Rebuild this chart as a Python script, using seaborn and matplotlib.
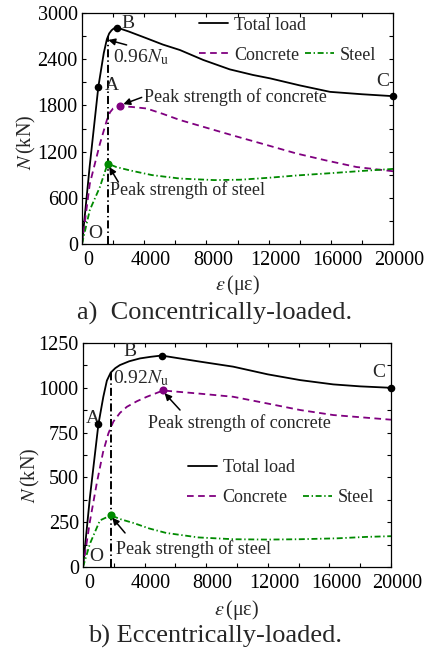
import matplotlib
matplotlib.use("Agg")
import matplotlib.pyplot as plt
import seaborn as sns
from matplotlib.ticker import MultipleLocator
from matplotlib.transforms import ScaledTranslation

# ---------------- data: concentrically-loaded column ----------------
eps_total_a = [0, 500, 1050, 1400, 1600, 1750, 1900, 2050, 2270, 3000, 4150, 5200,
               6300, 7800, 9500, 11000, 12100, 14000, 15950, 18000, 20000]
N_total_a = [0, 1020, 2040, 2480, 2660, 2735, 2775, 2800, 2810, 2760, 2672, 2590,
             2519, 2390, 2268, 2195, 2151, 2060, 1976, 1945, 1920]
eps_conc_a = [0, 500, 1150, 1600, 1800, 2000, 2450, 3200, 4150, 5200, 6300, 8000,
              9700, 11800, 13800, 15700, 17650, 20000]
N_conc_a = [0, 780, 1300, 1610, 1710, 1760, 1790, 1780, 1760, 1690, 1610, 1510,
            1410, 1290, 1175, 1085, 1000, 945]
eps_steel_a = [0, 500, 1150, 1650, 2200, 3100, 4500, 6300, 8500, 10200, 12000,
               13800, 16000, 18100, 20000]
N_steel_a = [0, 440, 740, 1045, 1000, 955, 895, 850, 830, 835, 860, 890, 920, 950, 975]
key_a = {"A": (1050, 2040), "B": (2270, 2810), "C": (20000, 1920)}
conc_peak_a = (2450, 1790)
steel_peak_a = (1650, 1045)
ratio_a = 0.96
eps_ratio_a = 1650

# ---------------- data: eccentrically-loaded column ----------------
eps_total_b = [0, 450, 1000, 1320, 1550, 1800, 2100, 2400, 3000, 3700, 4400, 5100,
               6200, 7600, 9750, 12000, 14100, 16250, 18000, 20000]
N_total_b = [0, 390, 796, 950, 1040, 1085, 1110, 1127, 1148, 1164, 1173, 1180,
             1165, 1146, 1118, 1075, 1043, 1019, 1008, 1000]
eps_conc_b = [0, 450, 900, 1300, 1650, 1970, 2400, 2850, 3500, 4150, 5200, 7500,
              9750, 12000, 14100, 16250, 20000]
N_conc_b = [0, 255, 470, 640, 746, 811, 860, 894, 925, 950, 985, 968, 950, 912,
            876, 848, 822]
eps_steel_b = [0, 450, 1100, 1800, 2500, 3300, 4300, 5400, 7500, 9750, 12000,
               14100, 16500, 18400, 20000]
N_steel_b = [0, 130, 260, 288, 265, 245, 215, 190, 165, 155, 153, 155, 160, 168, 172]
key_b = {"A": (1000, 796), "B": (5100, 1180), "C": (20000, 1000)}
conc_peak_b = (5200, 985)
steel_peak_b = (1800, 288)
ratio_b = 0.92
eps_ratio_b = 1800

series_names = ["Total load", "Concrete", "Steel"]
captions = ["a)  Concentrically-loaded.", "b) Eccentrically-loaded."]

# ---------------- style ----------------
sns.set_theme(style="ticks")
plt.rcParams.update({
    "font.family": ["Liberation Serif", "DejaVu Serif"],
    "mathtext.fontset": "stix",
    "lines.scale_dashes": False,
    "axes.edgecolor": "black",
    "axes.linewidth": 0.9,
    "xtick.direction": "in", "ytick.direction": "in",
    "xtick.top": True, "ytick.right": True,
    "xtick.color": "black", "ytick.color": "black",
    "xtick.major.size": 3.2, "ytick.major.size": 3.2,
    "xtick.minor.size": 2.6, "ytick.minor.size": 2.6,
    "xtick.major.width": 0.8, "ytick.major.width": 0.8,
    "xtick.minor.width": 0.8, "ytick.minor.width": 0.8,
    "xtick.major.pad": 5.0, "ytick.major.pad": 3.0,
    "xtick.labelsize": 14.5, "ytick.labelsize": 14.5,
})

PURPLE = "#800080"
GREEN = "#008a00"
DASH_C = (0, (4.8, 3.2))
DASH_S = (0, (4.3, 1.9, 1.0, 1.9))
DASH_V = (0, (5.8, 2.2, 1.0, 2.2))

W, H = 430, 649
fig = plt.figure(figsize=(W / 100, H / 100), dpi=100)


def fig_xy(px, py):
    return px / W, 1 - py / H


def draw_panel(ax, d):
    sns.lineplot(x=d["et"], y=d["nt"], ax=ax, color="black", lw=1.3,
                 sort=False, estimator=None)
    l_total = ax.lines[-1]
    sns.lineplot(x=d["ec"], y=d["nc"], ax=ax, color=PURPLE, lw=1.3,
                 sort=False, estimator=None, linestyle=DASH_C)
    l_conc = ax.lines[-1]
    sns.lineplot(x=d["es"], y=d["ns"], ax=ax, color=GREEN, lw=1.3,
                 sort=False, estimator=None, linestyle=DASH_S)
    l_steel = ax.lines[-1]

    # vertical marker of the ratio point
    nu = d["key"]["B"][1]
    sns.lineplot(x=[d["er"], d["er"]], y=[0, d["ratio"] * nu], ax=ax,
                 color="black", lw=1.4, sort=False, estimator=None,
                 linestyle=DASH_V)

    kx = [v[0] for v in d["key"].values()]
    ky = [v[1] for v in d["key"].values()]
    sns.scatterplot(x=kx, y=ky, ax=ax, color="black", s=30, linewidth=0,
                    zorder=5, clip_on=False)
    sns.scatterplot(x=[d["cp"][0]], y=[d["cp"][1]], ax=ax, color=PURPLE, s=34,
                    linewidth=0, zorder=5)
    sns.scatterplot(x=[d["sp"][0]], y=[d["sp"][1]], ax=ax, color=GREEN, s=34,
                    linewidth=0, zorder=5)
    if ax.get_legend() is not None:
        ax.get_legend().remove()

    ax.set_xlim(0, 20000)
    ax.set_ylim(0, d["ymax"])
    ax.xaxis.set_major_locator(MultipleLocator(4000))
    ax.xaxis.set_minor_locator(MultipleLocator(2000))
    ax.yaxis.set_major_locator(MultipleLocator(d["ystep"]))
    ax.yaxis.set_minor_locator(MultipleLocator(d["ystep"] / 2))
    for s in ax.spines.values():
        s.set_visible(True)
        s.set_color("black")

    ax.set_xlabel(r"$\varepsilon\,$(με)", fontsize=14.5)
    ax.set_ylabel(r"$N\,$(kN)", fontsize=14.5)
    ax.xaxis.set_label_coords(0.5, d["xlab_y"])
    ax.yaxis.set_label_coords(d["ylab_x"], d["ylab_y"])

    # point letters
    for name, (tx, ty) in d["letters"].items():
        ax.text(tx, ty, name, fontsize=14, ha="center", va="center")
    ax.text(d["ratio_txt"][0], d["ratio_txt"][1],
            f"{d['ratio']:.2f}" + r"$N_{\rm u}$", fontsize=14,
            ha="left", va="center")

    arrow = dict(arrowstyle="-|>", color="black", lw=1.1, mutation_scale=10,
                 shrinkA=0, shrinkB=0)
    for head, tail in d["arrows"]:
        ax.annotate("", xy=head, xytext=tail, arrowprops=arrow, zorder=6)
    ax.text(*d["conc_txt"], "Peak strength of concrete", fontsize=13,
            ha="center", va="center")
    ax.text(*d["steel_txt"], "Peak strength of steel", fontsize=13,
            ha="center", va="center")

    # legend: first row total load, second row concrete and steel
    leg1 = ax.legend([l_total], [series_names[0]], loc="center left",
                     bbox_to_anchor=fig_xy(*d["leg1"]), bbox_transform=fig.transFigure,
                     frameon=False, fontsize=13, handlelength=1.6,
                     handletextpad=0.35, borderpad=0, borderaxespad=0)
    ax.add_artist(leg1)
    ax.legend([l_conc, l_steel], series_names[1:], loc="center left",
              bbox_to_anchor=fig_xy(*d["leg2"]), bbox_transform=fig.transFigure,
              frameon=False, fontsize=13, handlelength=1.6, ncol=2,
              handletextpad=0.35, columnspacing=d["colsp"], borderpad=0,
              borderaxespad=0)

    shift = ScaledTranslation(6.5 / 100, 0, fig.dpi_scale_trans)
    for lab in ax.get_xticklabels():
        lab.set_transform(lab.get_transform() + shift)


ax1 = fig.add_axes([82 / W, 1 - 244 / H, 311 / W, 231 / H])
draw_panel(ax1, dict(
    et=eps_total_a, nt=N_total_a, ec=eps_conc_a, nc=N_conc_a,
    es=eps_steel_a, ns=N_steel_a, key=key_a, cp=conc_peak_a, sp=steel_peak_a,
    ratio=ratio_a, er=eps_ratio_a, ymax=3000, ystep=600,
    xlab_y=-0.125, ylab_x=-0.14, ylab_y=0.44,
    letters={"A": (1930, 2064), "B": (2960, 2870), "C": (19350, 2115), "O": (835, 137)},
    ratio_txt=(1990, 2428),
    arrows=[((1690, 2650), (2870, 2585)),
            ((2660, 1816), (3840, 1904)),
            ((1755, 1000), (2335, 805))],
    conc_txt=(9870, 1911), steel_txt=(6815, 697),
    leg1=(199, 25), leg2=(199, 55), colsp=0.3,
))

ax2 = fig.add_axes([83 / W, 1 - 567 / H, 308 / W, 224 / H])
draw_panel(ax2, dict(
    et=eps_total_b, nt=N_total_b, ec=eps_conc_b, nc=N_conc_b,
    es=eps_steel_b, ns=N_steel_b, key=key_b, cp=conc_peak_b, sp=steel_peak_b,
    ratio=ratio_b, er=eps_ratio_b, ymax=1250, ystep=250,
    xlab_y=-0.14, ylab_x=-0.133, ylab_y=0.41,
    letters={"A": (650, 831), "B": (3050, 1205), "C": (19220, 1088), "O": (845, 61)},
    ratio_txt=(1950, 1055),
    arrows=[((5300, 970), (6300, 876)),
            ((1900, 275), (2730, 190))],
    conc_txt=(10130, 804), steel_txt=(7180, 100),
    leg1=(188, 468), leg2=(187, 498), colsp=0.85,
))

fig.text(0.5, 1 - 313 / H, captions[0], fontsize=19, ha="center", va="center")
fig.text(0.5, 1 - 636 / H, captions[1], fontsize=19, ha="center", va="center")

fig.savefig("out.png", dpi=100)
